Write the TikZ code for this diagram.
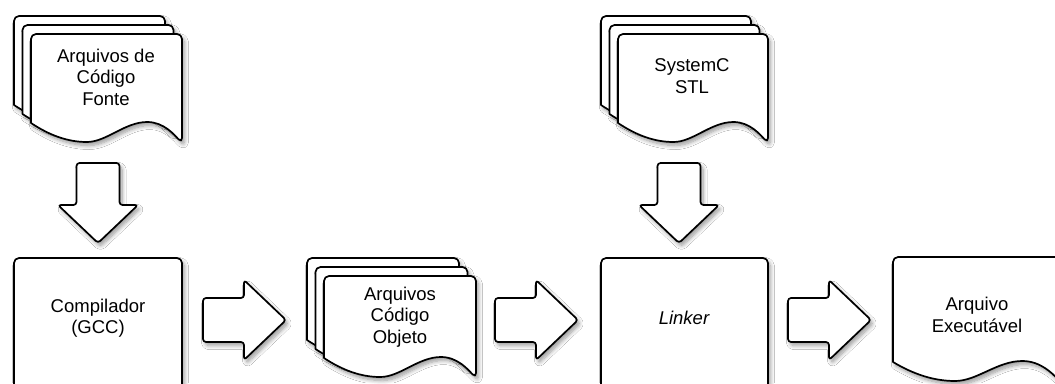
\documentclass[tikz,border=0pt]{standalone}
\usepackage{fontspec}
\setmainfont{Liberation Sans}
\usetikzlibrary{shadows.blur}

\tikzset{
  sheet/.style={draw=black, fill=white, line width=1.7pt, line join=round,
    blur shadow={shadow xshift=2.5pt, shadow yshift=-3.5pt,
                 shadow blur radius=4pt, shadow blur steps=8}},
  txt/.style={align=center, font=\fontsize{18.5pt}{21.5pt}\selectfont, inner sep=0pt}
}

% document sheet with a wavy bottom: top-left corner (#1,#2), width #3, left side height #4
\newcommand\docsheet[4]{%
  \path[sheet] (#1,#2+#4) [rounded corners=5pt] -- (#1,#2) -- (#1+#3,#2)
    -- (#1+#3,#2+#4+20) [sharp corners]
    .. controls (#1+0.95*#3,#2+#4+12) and (#1+0.88*#3,#2+#4-1) .. (#1+0.77*#3,#2+#4-1)
    .. controls (#1+0.62*#3,#2+#4-1) and (#1+0.5*#3,#2+#4+19) .. (#1+0.37*#3,#2+#4+19)
    .. controls (#1+0.24*#3,#2+#4+19) and (#1+0.12*#3,#2+#4+12) .. (#1,#2+#4)
    -- cycle;}

% stack of three sheets, front sheet at (#1,#2)
\newcommand\docstack[4]{%
  \docsheet{#1-17}{#2-18}{#3}{#4}%
  \docsheet{#1-8.5}{#2-9}{#3}{#4}%
  \docsheet{#1}{#2}{#3}{#4}}

% block arrow pointing down: shaft centre #1, top #2
\newcommand\blockdown[2]{%
  \path[sheet, rounded corners=3pt] (#1-21.5,#2) -- (#1+21.5,#2) -- (#1+21.5,#2+42)
    -- (#1+40,#2+42) -- (#1,#2+80) -- (#1-40,#2+42) -- (#1-21.5,#2+42) -- cycle;}

% block arrow pointing right: left end #1, centre line #2
\newcommand\blockright[2]{%
  \path[sheet, rounded corners=3pt] (#1,#2-22) -- (#1+41,#2-22) -- (#1+41,#2-40)
    -- (#1+83,#2) -- (#1+41,#2+40) -- (#1+41,#2+22) -- (#1,#2+22) -- cycle;}

\begin{document}
\begin{tikzpicture}[x=1pt, y=-1pt]
  \useasboundingbox (0,0) rectangle (1055,383);
  \clip (0,0) rectangle (1055,383);
  \fill[white] (0,0) rectangle (1055,383);

  % inputs
  \docstack{31}{34}{151}{89}
  \docstack{618}{34}{150}{89}

  % processing steps
  \path[sheet, rounded corners=5pt] (14,258) rectangle (182,430);
  \path[sheet, rounded corners=5pt] (601,258) rectangle (768,430);

  % intermediate and final files
  \docstack{324}{276}{152}{82}
  \docsheet{893}{257}{168}{105}

  % flow arrows
  \blockdown{98}{163}
  \blockdown{679}{163}
  \blockright{203}{320}
  \blockright{495}{320}
  \blockright{788}{320}

  % labels
  \node[txt] (src)  at (106,77)  {Arquivos de\\Código\\Fonte};
  \node[txt] (sysc) at (692,76)  {SystemC\\STL};
  \node[txt] (gcc)  at (98,318)  {Compilador\\(GCC)};
  \node[txt] (obj)  at (400,317) {Arquivos\\Código\\Objeto};
  \node[txt] (lnk)  at (684,318) {\itshape Linker};
  \node[txt] (exe)  at (977,315) {Arquivo\\Executável};
\end{tikzpicture}
\end{document}
